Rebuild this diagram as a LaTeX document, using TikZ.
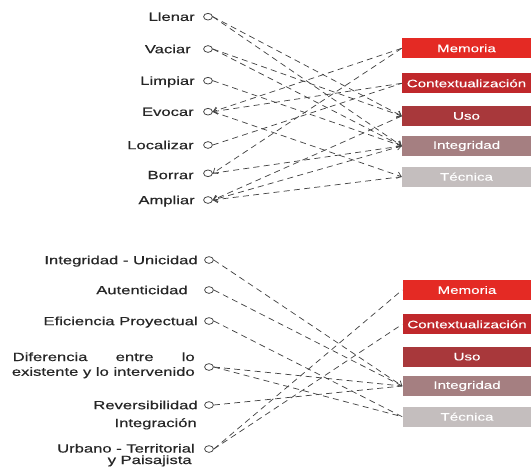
\documentclass[tikz,border=0pt]{standalone}
\usepackage{fontspec}
\setmainfont{Liberation Sans}
\newfontfamily\labfont[FakeBold=0.4]{Liberation Sans}
\newfontfamily\boxfont[FakeBold=0.15]{Liberation Sans}
\usepackage{graphicx}
\usetikzlibrary{arrows.meta,shapes.geometric}
\definecolor{memc}{HTML}{E42A24}
\definecolor{conc}{HTML}{C0282B}
\definecolor{usoc}{HTML}{A8383B}
\definecolor{intc}{HTML}{A57F81}
\definecolor{tecc}{HTML}{C4BEBE}
\definecolor{linec}{HTML}{444444}
\definecolor{txtc}{HTML}{262626}
\newcommand\hs[1]{\scalebox{1.4}[1]{#1}}
\begin{document}
\begin{tikzpicture}[x=0.75pt,y=-0.75pt,
  box/.style={rectangle, minimum width=96.75pt, minimum height=15pt, inner sep=0pt,
    text=white, font=\boxfont\fontsize{8.1pt}{9pt}\selectfont},
  dot/.style={ellipse, draw=linec, line width=0.6pt, minimum width=6.6pt,
    minimum height=5pt, inner sep=0pt},
  lab/.style={anchor=base east, inner sep=0pt, text=txtc,
    font=\labfont\fontsize{8.9pt}{10pt}\selectfont},
  conn/.style={draw=linec, line width=0.55pt, dash pattern=on 4.5pt off 3.2pt},
  tip/.style={-{Straight Barb[length=3pt,width=5pt]}}]
\useasboundingbox (0,0) rectangle (531,467);

% ---------- top: boxes
\node[box, fill=memc] (tMem) at (466.5,48.3) {\hs{Memoria}};
\node[box, fill=conc] (tCon) at (466.5,83.3) {\hs{Contextualización}};
\node[box, fill=usoc] (tUso) at (466.5,116) {\hs{Uso}};
\node[box, fill=intc] (tInt) at (466.5,146) {\hs{Integridad}};
\node[box, fill=tecc] (tTec) at (466.5,176.7) {\hs{Técnica}};

% ---------- top: circles and labels
\node[dot] (cLle) at (208,16.7) {};
\node[dot] (cVac) at (208,49) {};
\node[dot] (cLim) at (208,80.7) {};
\node[dot] (cEvo) at (208,111.7) {};
\node[dot] (cLoc) at (208,145) {};
\node[dot] (cBor) at (208,173.3) {};
\node[dot] (cAmp) at (208,200) {};
\node[lab] (lLle) at (195,20.9) {\hs{Llenar}};
\node[lab] (lVac) at (191,53.2) {\hs{Vaciar}};
\node[lab] (lLim) at (195,84.9) {\hs{Limpiar}};
\node[lab] (lEvo) at (194,115.9) {\hs{Evocar}};
\node[lab] (lLoc) at (194,149.2) {\hs{Localizar}};
\node[lab] (lBor) at (194,179.1) {\hs{Borrar}};
\node[lab] (lAmp) at (195,204.2) {\hs{Ampliar}};

% ---------- top: connectors
\draw[conn,tip] (cLle.east) -- (tUso.west);
\draw[conn,tip] (cLle.east) -- (tInt.west);
\draw[conn,tip] (cVac.east) -- (tUso.west);
\draw[conn,tip] (cVac.east) -- (tInt.west);
\draw[conn,tip] (cLim.east) -- (tInt.west);
\draw[conn,tip] (cEvo.east) -- (tTec.west);
\draw[conn,tip] (tMem.west) -- (cEvo.east);
\draw[conn,tip] (tCon.west) -- (cEvo.east);
\draw[conn] (cLoc.east) -- (tCon.west);
\draw[conn,tip] (tMem.west) -- (cBor.east);
\draw[conn,tip] (cBor.east) -- (tInt.west);
\draw[conn,tip] (tUso.west) -- (cAmp.east);
\draw[conn,tip] (tInt.west) -- (cAmp.east);
\draw[conn,tip] (tTec.west) -- (cAmp.east);

% ---------- bottom: boxes
\node[box, fill=memc] (bMem) at (467,290) {\hs{Memoria}};
\node[box, fill=conc] (bCon) at (467,324.3) {\hs{Contextualización}};
\node[box, fill=usoc] (bUso) at (467,356.7) {\hs{Uso}};
\node[box, fill=intc] (bInt) at (467,386) {\hs{Integridad}};
\node[box, fill=tecc] (bTec) at (467,416.7) {\hs{Técnica}};

% ---------- bottom: circles and labels
\node[dot] (cIU) at (209,260) {};
\node[dot] (cAut) at (209,290) {};
\node[dot] (cEfi) at (209,321) {};
\node[dot] (cDif) at (209,367) {};
\node[dot] (cRev) at (209,405) {};
\node[dot] (cIUT) at (209,449) {};
\node[lab] (lIU) at (198,264.2) {\hs{Integridad - Unicidad}};
\node[lab] (lAut) at (188,294.2) {\hs{Autenticidad}};
\node[lab] (lEfi) at (198,325.2) {\hs{Eficiencia Proyectual}};
\node[lab] (lDifA) at (195,361) {\hs{\makebox[97.5pt][s]{Diferencia entre lo}}};
\node[lab] (lDifB) at (195,375.8) {\hs{existente y lo intervenido}};
\node[lab] (lRev) at (198,409.2) {\hs{Reversibilidad}};
\node[lab] (lIUTa) at (197,427) {\hs{Integración}};
\node[lab] (lIUTb) at (195,452.5) {\hs{Urbano - Territorial}};
\node[lab] (lIUTc) at (192,464) {\hs{y Paisajista}};

% ---------- bottom: connectors
\draw[conn,tip] (cIU.east) -- (bInt.west);
\draw[conn] (cAut.east) -- (bInt.west);
\draw[conn] (cEfi.east) -- (bTec.west);
\draw[conn] (cDif.east) -- (bInt.west);
\draw[conn] (cDif.east) -- (bTec.west);
\draw[conn] (cRev.east) -- (bInt.west);
\draw[conn] (cIUT.east) -- (bMem.west);
\draw[conn] (cIUT.east) -- (bCon.west);
\end{tikzpicture}
\end{document}
